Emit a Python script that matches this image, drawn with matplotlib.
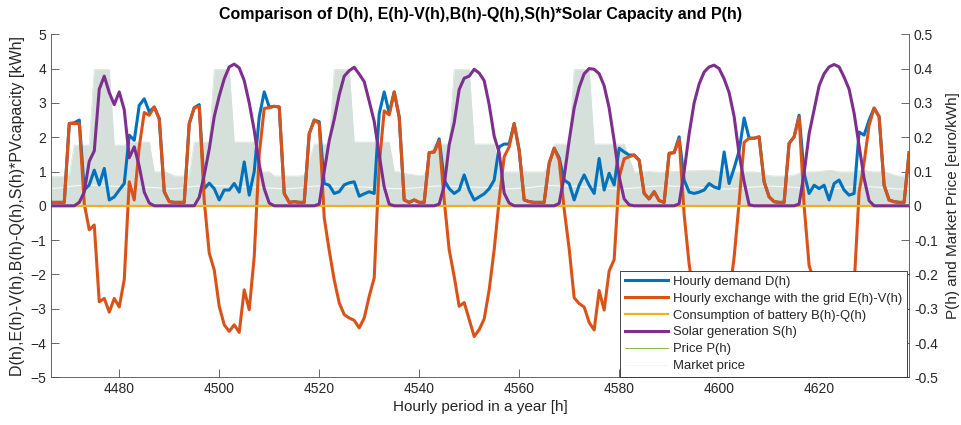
import matplotlib
matplotlib.use("Agg")
import matplotlib.pyplot as plt

plt.rcParams["font.family"] = ["Liberation Sans", "DejaVu Sans"]

# DATA (hourly)
hours = list(range(4466, 4639))

demand = [
    0.10, 0.10, 0.10, 0.10, 2.40, 2.42, 2.50, 0.46, 0.61, 1.04, 0.61, 1.09,   # 4466-4477
    0.17, 0.26, 0.46, 0.65, 2.06, 1.91, 2.93, 3.12, 2.74, 2.88, 2.54, 0.41,   # 4478-4489
    0.12, 0.10, 0.10, 0.10, 2.40, 2.86, 2.95, 0.50, 0.66, 0.50, 0.17, 0.46,   # 4490-4501
    0.46, 0.65, 0.40, 1.28, 0.31, 1.00, 2.59, 3.32, 2.88, 2.90, 2.88, 0.36,   # 4502-4513
    0.10, 0.12, 0.10, 0.10, 2.10, 2.50, 2.45, 0.65, 0.60, 0.36, 0.41, 0.61,   # 4514-4525
    0.67, 0.70, 0.28, 0.35, 0.41, 0.36, 2.69, 3.32, 2.70, 3.32, 2.59, 0.17,   # 4526-4537
    0.10, 0.17, 0.10, 0.10, 1.55, 1.57, 1.95, 0.75, 0.50, 0.36, 0.46, 0.90,   # 4538-4549
    0.46, 0.17, 0.26, 0.35, 0.50, 0.75, 1.72, 1.80, 1.80, 2.40, 1.62, 0.17,   # 4550-4561
    0.12, 0.10, 0.10, 0.10, 1.24, 1.68, 1.40, 0.75, 0.65, 0.17, 0.60, 0.90,   # 4562-4573
    0.60, 0.36, 1.38, 0.46, 0.95, 0.61, 1.68, 1.57, 1.48, 1.48, 1.33, 0.36,   # 4574-4585
    0.20, 0.41, 0.15, 0.10, 1.53, 1.55, 2.01, 0.75, 0.40, 0.36, 0.40, 0.46,   # 4586-4597
    0.65, 0.55, 0.50, 1.57, 0.65, 1.10, 1.60, 2.56, 1.97, 1.97, 2.01, 0.70,   # 4598-4609
    0.26, 0.12, 0.10, 0.10, 1.82, 2.01, 2.64, 0.95, 0.36, 0.60, 0.50, 0.60,   # 4610-4621
    0.17, 0.65, 0.75, 0.46, 0.31, 0.36, 2.15, 2.06, 2.50, 2.85, 2.60, 0.60,   # 4622-4633
    0.17, 0.12, 0.10, 0.10, 1.55,                                             # 4634-4638
]

grid_exchange = [
    0.10, 0.10, 0.10, 0.10, 2.40, 2.40, 2.40, 0.06, -0.70, -0.56, -2.80, -2.70,
    -3.10, -2.70, -2.95, -2.15, 0.70, 0.17, 1.72, 2.72, 2.64, 2.88, 2.54, 0.41,
    0.12, 0.10, 0.10, 0.10, 2.40, 2.86, 2.90, 0.15, -1.38, -1.87, -2.93, -3.47,
    -3.66, -3.47, -3.69, -2.45, -3.03, -1.48, 1.50, 2.84, 2.86, 2.90, 2.88, 0.36,
    0.10, 0.12, 0.10, 0.10, 2.10, 2.50, 2.40, -0.35, -1.30, -2.16, -2.83, -3.17,
    -3.27, -3.34, -3.56, -3.27, -2.64, -2.10, 1.20, 2.77, 2.65, 3.32, 2.59, 0.17,
    0.10, 0.17, 0.10, 0.10, 1.55, 1.57, 1.90, 0.17, -1.28, -2.06, -2.93, -2.82,
    -3.32, -3.81, -3.61, -3.30, -2.45, -1.28, 0.17, 1.43, 1.72, 2.40, 1.62, 0.17,
    0.12, 0.10, 0.10, 0.10, 1.24, 1.68, 1.33, -0.10, -1.25, -2.68, -2.85, -2.95,
    -3.40, -3.62, -2.47, -3.04, -1.90, -1.57, 0.83, 1.37, 1.43, 1.48, 1.33, 0.36,
    0.20, 0.41, 0.15, 0.10, 1.53, 1.55, 1.95, -0.25, -1.70, -2.64, -3.15, -3.44,
    -3.40, -3.55, -3.50, -2.13, -2.65, -1.50, 0.10, 1.85, 1.97, 1.97, 2.01, 0.70,
    0.26, 0.12, 0.10, 0.10, 1.82, 2.01, 2.59, 0.00, -1.74, -2.20, -3.00, -3.25,
    -3.88, -3.47, -3.30, -3.29, -3.09, -2.34, 0.40, 1.26, 2.35, 2.85, 2.60, 0.60,
    0.17, 0.12, 0.10, 0.10, 1.55,
]

battery = [0.0] * len(hours)

solar = [
    0.00, 0.00, 0.00, 0.00, 0.00, 0.00, 0.10, 0.40, 1.30, 1.60, 3.40, 3.78,
    3.30, 2.95, 3.32, 2.80, 1.40, 1.72, 1.15, 0.40, 0.08, 0.00, 0.00, 0.00,
    0.00, 0.00, 0.00, 0.00, 0.00, 0.00, 0.25, 0.90, 1.65, 2.60, 3.20, 3.70,
    4.05, 4.13, 4.02, 3.65, 3.00, 2.20, 1.20, 0.50, 0.08, 0.00, 0.00, 0.00,
    0.00, 0.00, 0.00, 0.00, 0.00, 0.00, 0.05, 1.00, 1.90, 2.52, 3.24, 3.78,
    3.94, 4.04, 3.84, 3.62, 3.05, 2.46, 1.49, 0.55, 0.05, 0.00, 0.00, 0.00,
    0.00, 0.00, 0.00, 0.00, 0.00, 0.00, 0.05, 0.58, 1.78, 2.42, 3.39, 3.72,
    3.78, 3.98, 3.87, 3.65, 2.95, 2.03, 1.55, 0.37, 0.08, 0.00, 0.00, 0.00,
    0.00, 0.00, 0.00, 0.00, 0.00, 0.00, 0.07, 0.85, 1.90, 2.85, 3.45, 3.85,
    4.00, 3.98, 3.85, 3.50, 2.85, 1.90, 0.85, 0.20, 0.03, 0.00, 0.00, 0.00,
    0.00, 0.00, 0.00, 0.00, 0.00, 0.00, 0.06, 1.00, 2.10, 3.00, 3.55, 3.90,
    4.05, 4.10, 4.00, 3.70, 3.30, 2.60, 1.50, 0.70, 0.03, 0.00, 0.00, 0.00,
    0.00, 0.00, 0.00, 0.00, 0.00, 0.00, 0.05, 0.95, 2.10, 2.80, 3.50, 3.85,
    4.05, 4.12, 4.05, 3.75, 3.40, 2.70, 1.75, 0.80, 0.15, 0.00, 0.00, 0.00,
    0.00, 0.00, 0.00, 0.00, 0.00,
]

price = [
    0.085, 0.085, 0.085, 0.085, 0.090, 0.177, 0.177, 0.177, 0.177, 0.397, 0.397, 0.397,
    0.397, 0.177, 0.177, 0.177, 0.186, 0.186, 0.186, 0.186, 0.186, 0.099, 0.099, 0.099,
    0.095, 0.087, 0.087, 0.087, 0.087, 0.186, 0.186, 0.186, 0.186, 0.397, 0.397, 0.397,
    0.397, 0.186, 0.186, 0.186, 0.186, 0.186, 0.099, 0.099, 0.099, 0.087, 0.087, 0.087,
    0.087, 0.087, 0.087, 0.090, 0.130, 0.180, 0.180, 0.180, 0.180, 0.397, 0.397, 0.397,
    0.397, 0.186, 0.186, 0.186, 0.186, 0.186, 0.186, 0.186, 0.186, 0.100, 0.099, 0.095,
    0.092, 0.090, 0.088, 0.090, 0.130, 0.180, 0.180, 0.180, 0.180, 0.397, 0.397, 0.397,
    0.397, 0.180, 0.180, 0.180, 0.180, 0.180, 0.100, 0.099, 0.099, 0.099, 0.099, 0.099,
    0.099, 0.099, 0.099, 0.099, 0.120, 0.180, 0.180, 0.180, 0.180, 0.397, 0.397, 0.397,
    0.397, 0.180, 0.180, 0.180, 0.180, 0.180, 0.180, 0.180, 0.140, 0.099, 0.099, 0.099,
    0.100, 0.099, 0.098, 0.099, 0.099, 0.100, 0.101, 0.101, 0.102, 0.102, 0.103, 0.104,
    0.104, 0.103, 0.101, 0.100, 0.099, 0.099, 0.099, 0.099, 0.099, 0.099, 0.097, 0.092,
    0.088, 0.087, 0.087, 0.087, 0.087, 0.090, 0.095, 0.099, 0.099, 0.099, 0.100, 0.102,
    0.104, 0.102, 0.099, 0.099, 0.099, 0.099, 0.104, 0.104, 0.100, 0.099, 0.099, 0.099,
    0.095, 0.090, 0.087, 0.087, 0.087,
]

market_price = [
    0.050, 0.051, 0.052, 0.054, 0.056, 0.058, 0.059, 0.060, 0.060, 0.060, 0.059, 0.058,
    0.058, 0.057, 0.057, 0.056, 0.056, 0.055, 0.055, 0.054, 0.054, 0.053, 0.052, 0.051,
    0.050, 0.050, 0.051, 0.053, 0.055, 0.057, 0.058, 0.059, 0.059, 0.059, 0.058, 0.058,
    0.057, 0.057, 0.056, 0.056, 0.055, 0.055, 0.054, 0.053, 0.052, 0.051, 0.050, 0.050,
    0.050, 0.051, 0.052, 0.054, 0.056, 0.057, 0.058, 0.058, 0.058, 0.057, 0.057, 0.056,
    0.056, 0.056, 0.055, 0.055, 0.054, 0.054, 0.053, 0.052, 0.051, 0.050, 0.050, 0.050,
    0.051, 0.052, 0.053, 0.055, 0.056, 0.057, 0.058, 0.058, 0.057, 0.057, 0.056, 0.056,
    0.055, 0.055, 0.054, 0.054, 0.053, 0.052, 0.051, 0.050, 0.050, 0.050, 0.051, 0.052,
    0.053, 0.055, 0.057, 0.058, 0.059, 0.059, 0.058, 0.058, 0.057, 0.057, 0.056, 0.055,
    0.055, 0.054, 0.053, 0.052, 0.051, 0.050, 0.050, 0.050, 0.051, 0.052, 0.053, 0.055,
    0.056, 0.057, 0.058, 0.058, 0.058, 0.057, 0.057, 0.056, 0.055, 0.055, 0.054, 0.053,
    0.052, 0.051, 0.050, 0.049, 0.049, 0.050, 0.051, 0.052, 0.054, 0.055, 0.056, 0.057,
    0.057, 0.057, 0.056, 0.056, 0.055, 0.054, 0.053, 0.052, 0.051, 0.050, 0.049, 0.049,
    0.049, 0.050, 0.051, 0.053, 0.055, 0.056, 0.057, 0.057, 0.056, 0.055, 0.054, 0.052,
    0.051, 0.050, 0.049, 0.049, 0.050,
]

# COLOURS (matlab defaults)
C_BLUE = "#0072BD"
C_ORANGE = "#D95319"
C_YELLOW = "#EDB120"
C_PURPLE = "#7E2F8E"
C_GREEN = "#77AC30"
C_AREA = "#d5e0da"
C_AXIS = "#4d4d4d"

fig = plt.figure(figsize=(9.62, 4.25), dpi=100)
ax = fig.add_axes([0.0533, 0.1122, 0.8917, 0.8071])
ax2 = ax.twinx()

# right axis: price area + market price
ax2.fill_between(hours, 0, price, color=C_AREA, linewidth=0)
ax2.plot(hours, price, color=C_AREA, linewidth=0.5)
ax2.plot(hours, market_price, color="#f4f7f5", linewidth=0.9)
ax2.set_ylim(-0.5, 0.5)
ax2.set_yticks([-0.5, -0.4, -0.3, -0.2, -0.1, 0, 0.1, 0.2, 0.3, 0.4, 0.5])
ax2.set_yticklabels(["-0.5", "-0.4", "-0.3", "-0.2", "-0.1", "0", "0.1", "0.2", "0.3", "0.4", "0.5"])
ax2.set_ylabel("P(h) and Market Price [euro/kWh]", fontsize=11, color="#262626", labelpad=6)

# left axis on top
ax.set_zorder(ax2.get_zorder() + 1)
ax.patch.set_visible(False)

l1, = ax.plot(hours, demand, color=C_BLUE, linewidth=2.2)
l2, = ax.plot(hours, grid_exchange, color=C_ORANGE, linewidth=2.2)
l3, = ax.plot(hours, battery, color=C_YELLOW, linewidth=1.6)
l4, = ax.plot(hours, solar, color=C_PURPLE, linewidth=2.2)
l5, = ax.plot([], [], color=C_GREEN, linewidth=0.6)
l6, = ax.plot([], [], color="#f2f2f2", linewidth=0.6)

ax.set_xlim(4466.4, 4638)
ax.set_ylim(-5, 5)
ax.set_yticks(range(-5, 6))
ax.set_xticks(range(4480, 4621, 20))

ax.set_title("Comparison of D(h), E(h)-V(h),B(h)-Q(h),S(h)*Solar Capacity and P(h)",
             fontsize=11.5, fontweight="bold", pad=11)
ax.set_xlabel("Hourly period in a year [h]", fontsize=11, color="#262626", labelpad=3)
ax.set_ylabel("D(h),E(h)-V(h),B(h)-Q(h),S(h)*PVcapacity [kWh]", fontsize=11.5,
              color="#262626", labelpad=4)

for a in (ax, ax2):
    a.tick_params(direction="in", length=6, width=0.6, colors=C_AXIS,
                  labelsize=10, labelcolor="#262626")
    a.spines["top"].set_visible(False)
    for s in ("left", "right", "bottom"):
        a.spines[s].set_color(C_AXIS)
        a.spines[s].set_linewidth(0.6)
ax.spines["right"].set_visible(False)
ax2.spines["left"].set_visible(False)
ax2.spines["bottom"].set_visible(False)

leg = ax.legend([l1, l2, l3, l4, l5, l6],
                ["Hourly demand D(h)", "Hourly exchange with the grid E(h)-V(h)",
                 "Consumption of battery B(h)-Q(h)", "Solar generation S(h)",
                 "Price P(h)", "Market price"],
                loc="lower right", bbox_to_anchor=(0.998, 0.0), borderaxespad=0,
                fontsize=9.4, handlelength=3.3, handletextpad=0.35, labelspacing=0.36,
                borderpad=0.4, fancybox=False, framealpha=1)
leg.get_frame().set_edgecolor("#262626")
leg.get_frame().set_linewidth(0.6)
for t in leg.get_texts():
    t.set_color("#262626")

fig.savefig("out.png", dpi=100)
